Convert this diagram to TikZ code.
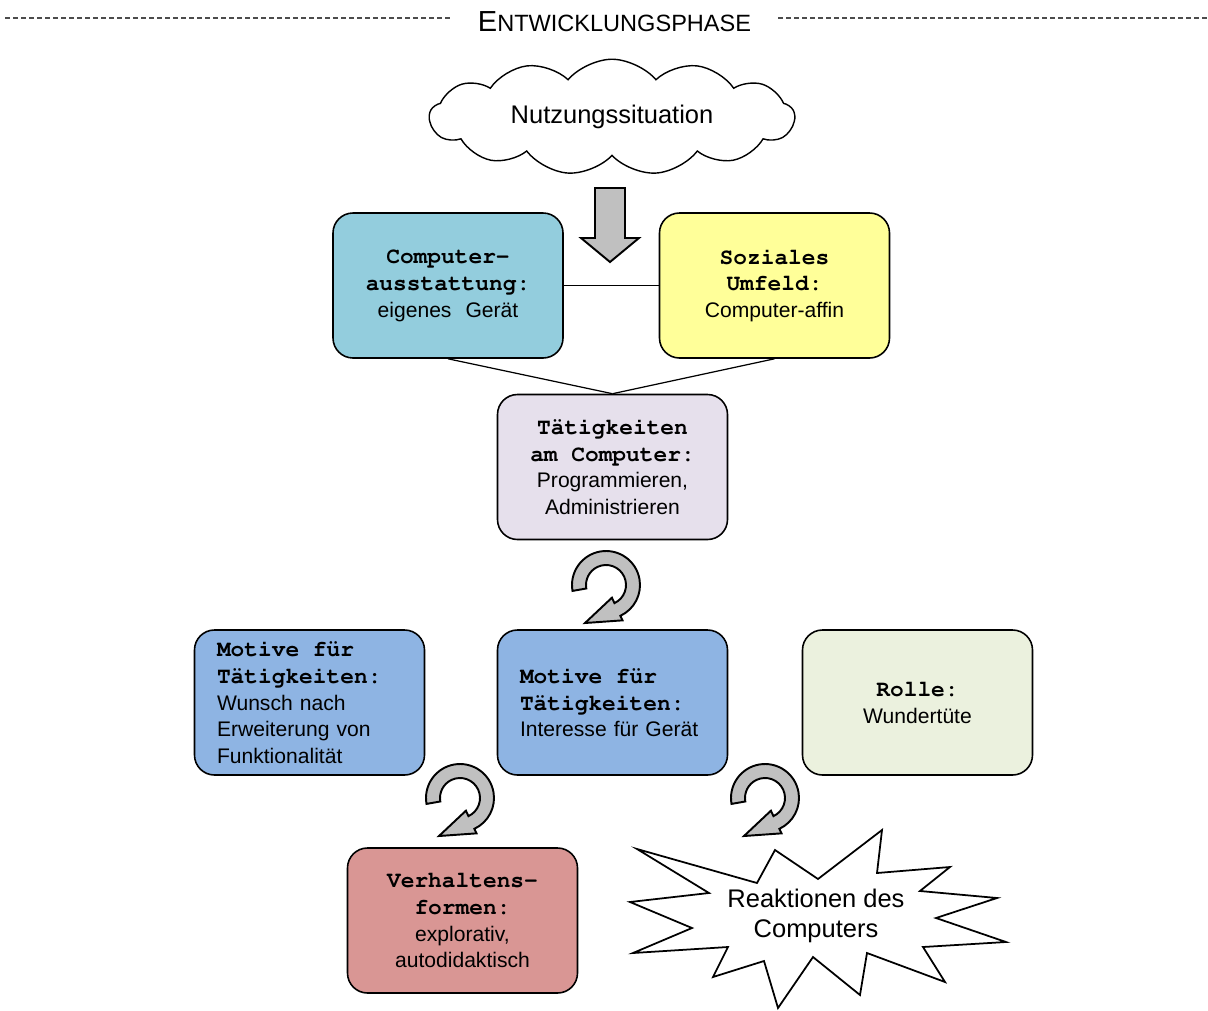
\documentclass[tikz,border=0pt]{standalone}
\usepackage[T1]{fontenc}
\usepackage{fontspec}
\setmainfont{Liberation Sans}
\setmonofont{Liberation Mono}
\usetikzlibrary{shapes, shapes.symbols, arrows}
\definecolor{ausstfarbe}{HTML}{93CDDD}
\definecolor{umfeldfarbe}{HTML}{FFFF99}
\definecolor{taetigfarbe}{HTML}{E6E0EC}
\definecolor{motivfarbe}{HTML}{8EB4E3}
\definecolor{rollefarbe}{HTML}{EBF1DE}
\definecolor{verhfarbe}{HTML}{D99694}
\definecolor{pfeilgrau}{HTML}{C0C0C0}
\tikzstyle{kasten}=[draw, rounded corners=4mm, line width=0.9pt,
    text width=37mm, inner xsep=4.5mm, inner ysep=0pt,
    minimum width=46mm, minimum height=29mm, align=center,
    font=\fontsize{12}{15.3}\selectfont]
\tikzstyle{kl}=[kasten, align=left]
\tikzstyle{wolke}=[cloud, draw, cloud puffs=13, cloud puff arc=100,
    aspect=3.6, minimum width=73mm, minimum height=19mm,
    line width=0.8pt, font=\fontsize{14.5}{17}\selectfont]
\tikzstyle{kreis}=[fill=pfeilgrau, draw=black, line width=1.1pt]
\tikzstyle{linie}=[draw, line width=0.7pt]
\tikzstyle{trenn}=[draw=black!70, line width=0.6pt,
    dash pattern=on 1mm off 0.6mm]
\newcommand{\kopf}[1]{{\fontencoding{T1}\fontfamily{pcr}\fontseries{b}%
    \fontsize{13}{15.3}\selectfont\spaceskip=0.6em\relax #1}}
% kreisfoermiger Pfeil, Mitte bei (#1,#2)
\newcommand{\kreispfeil}[2]{%
  \begin{scope}[shift={(#1,#2)}, yscale=-1]
    \filldraw[kreis] (190:34) arc[start angle=190, end angle=-65, radius=34]
      -- (-65:39) -- (-21,-38) -- (-65:14) -- (-65:20)
      arc[start angle=-65, end angle=190, radius=20] -- cycle;
  \end{scope}}

\begin{document}
\begin{tikzpicture}[x=0.2mm, y=-0.2mm]
    \useasboundingbox (0,0) rectangle (1208,1010);
    % Kopfzeile
    \node (titel) at (614.5,22) [inner xsep=5.4mm]
        {{\fontsize{16.5}{18}\selectfont E}\fontsize{13.4}{16}\selectfont NTWICKLUNGSPHASE};
    \coordinate (links) at (5,18);
    \coordinate (rechts) at (1208,18);
    \path[trenn] (links) -- (links -| titel.west);
    \path[trenn] (rechts -| titel.east) -- (rechts);

    \node (situation) [wolke] at (612,117) {Nutzungssituation};
    \filldraw[kreis] (595,188) -- (625,188) -- (625,238) -- (639,238)
        -- (610,262) -- (581,238) -- (595,238) -- cycle;

    \node (ausst) [kasten, fill=ausstfarbe] at (448,285.5)
        {\kopf{Computer-}\\\kopf{ausstattung:}\\eigenes~ Gerät};
    \node (umfeld) [kasten, fill=umfeldfarbe] at (774.5,285.5)
        {\kopf{Soziales}\\\kopf{Umfeld:}\\Computer-affin};
    \node (taetig) [kasten, fill=taetigfarbe] at (612.5,467)
        {\kopf{Tätigkeiten}\\\kopf{am Computer:}\\Programmieren,\\Administrieren};
    \path[linie] (ausst) -- (umfeld);
    \path[linie] (ausst.south) -- (taetig.north);
    \path[linie] (umfeld.south) -- (taetig.north);

    \kreispfeil{606}{585}

    \node (motiv1) [kl, fill=motivfarbe] at (309.5,702.5)
        {\kopf{Motive für}\\\kopf{Tätigkeiten:}\\Wunsch nach\\Erweiterung von\\Funktionalität};
    \node (motiv2) [kl, fill=motivfarbe] at (612.5,702.5)
        {\kopf{Motive für}\\\kopf{Tätigkeiten:}\\Interesse für Gerät};
    \node (rolle) [kasten, fill=rollefarbe] at (917.5,702.5)
        {\kopf{Rolle:}\\Wundertüte};

    \kreispfeil{460}{798}
    \kreispfeil{765}{798}

    \node (verhalten) [kasten, fill=verhfarbe] at (462.5,920.5)
        {\kopf{Verhaltens-}\\\kopf{formen:}\\explorativ,\\autodidaktisch};

    \filldraw[fill=white, line width=1pt] (637,849) -- (757,883) -- (775,850)
        -- (818,879) -- (882,830) -- (877,873) -- (950,867) -- (920,891)
        -- (997,898) -- (936,918) -- (1006,942) -- (923,947) -- (945,982)
        -- (867,953) -- (860,995) -- (813,957) -- (778,1008) -- (764,961)
        -- (713,977) -- (728,947) -- (633,953) -- (692,928) -- (630,902)
        -- (709,893) -- cycle;
    \node (reaktion) [align=center, font=\fontsize{14.5}{17}\selectfont]
        at (816,916) {Reaktionen des\\Computers};
\end{tikzpicture}
\end{document}
